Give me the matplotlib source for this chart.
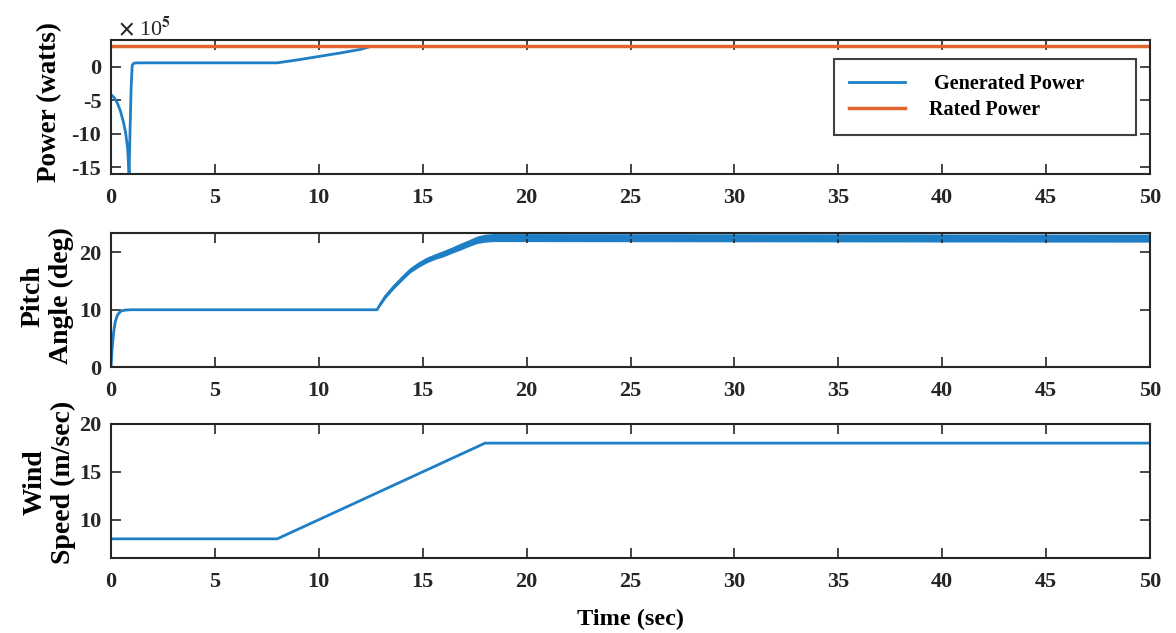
import matplotlib
matplotlib.use('Agg')
import matplotlib.pyplot as plt
from matplotlib.ticker import FuncFormatter

plt.rcParams['font.family'] = 'Liberation Serif'
plt.rcParams['font.weight'] = 'bold'
plt.rcParams['axes.labelweight'] = 'bold'
plt.rcParams['axes.unicode_minus'] = False
plt.rcParams['mathtext.fontset'] = 'stix'

# generated power (watts)
t_pow = [0, 0.15, 0.3, 0.45, 0.6, 0.7, 0.8, 0.87, 0.92, 0.97, 1.02, 1.1, 1.3,
         8.0, 9.0, 10.0, 11.0, 12.0, 12.5, 50]
gen_pow = [-4.2e5, -4.6e5, -5.4e5, -6.6e5, -8.3e5, -9.8e5, -12.2e5, -16e5, -9e5, -3e5,
           0.2e5, 0.5e5, 0.55e5, 0.55e5, 1.0e5, 1.5e5, 2.0e5, 2.55e5, 3.0e5, 3.0e5]
t_rated = [0, 50]
rated_pow = [3.0e5, 3.0e5]

# pitch angle (deg): centre of the trace and half width of the jitter band
t_pitch = [0, 0.05, 0.1, 0.15, 0.2, 0.3, 0.4, 0.5, 0.7, 1.0, 12.8, 13.0, 13.2, 13.6, 14.0,
           14.4, 14.8, 15.2, 15.6, 16.0, 16.4, 16.8, 17.2, 17.6, 18.0, 18.4, 50]
pitch = [0, 3.0, 5.2, 6.7, 7.8, 9.0, 9.5, 9.8, 9.95, 10, 10, 11.2, 12.3, 14.0, 15.5,
         16.9, 17.9, 18.7, 19.3, 19.8, 20.4, 21.0, 21.6, 22.2, 22.5, 22.6, 22.5]
pitch_jit = [0, 0, 0, 0, 0, 0, 0, 0, 0, 0, 0, 0.3, 0.35, 0.4, 0.45,
             0.45, 0.5, 0.5, 0.5, 0.55, 0.55, 0.6, 0.6, 0.65, 0.7, 0.7, 0.7]

# wind speed (m/s)
t_wind = [0, 8, 18, 50]
wind = [8, 8, 18, 18]

blue = '#1f7fc6'
orange = '#df6430'
xt = list(range(0, 51, 5))

fig = plt.figure(figsize=(11.76, 6.33), dpi=100)
ax1 = fig.add_axes([0.0944, 0.7251, 0.8835, 0.2117])
ax2 = fig.add_axes([0.0944, 0.4202, 0.8835, 0.2117])
ax3 = fig.add_axes([0.0944, 0.1185, 0.8835, 0.2117])

ax1.plot(t_pow, gen_pow, c=blue, lw=2, label=' Generated Power')
ax1.plot(t_rated, rated_pow, c=orange, lw=2.5, label='Rated Power')
ax1.set_ylim(-16e5, 3.95e5)
ax1.set_yticks([-15e5, -10e5, -5e5, 0])
ax1.yaxis.set_major_formatter(FuncFormatter(lambda v, p: '%g' % (v / 1e5)))
ax1.text(0.007, 1.035, r'$\times$ 10$^5$', transform=ax1.transAxes, fontsize=16,
         fontweight='normal', va='baseline', ha='left', color='#262626')
ax1.set_ylabel('Power (watts)', fontsize=19.5)
ax1.yaxis.set_label_coords(-0.047, 0.54)
leg = ax1.legend(loc='upper left', bbox_to_anchor=(0.6956, 0.291, 0.2909, 0.567),
                 mode='expand', borderaxespad=0, fontsize=14.5, handlelength=2.8,
                 handletextpad=1.2, borderpad=0.75, labelspacing=0.3,
                 fancybox=False, framealpha=1)
leg.get_frame().set_edgecolor('#404040')
leg.get_frame().set_linewidth(1.5)

ax2.fill_between(t_pitch, [p - j for p, j in zip(pitch, pitch_jit)],
                 [p + j for p, j in zip(pitch, pitch_jit)], color=blue, lw=0)
ax2.plot(t_pitch, pitch, c=blue, lw=2)
ax2.set_ylim(0, 23.4)
ax2.set_yticks([0, 10, 20])
ax2.set_ylabel('Pitch\nAngle (deg)', fontsize=20, linespacing=1.15)
ax2.yaxis.set_label_coords(-0.036, 0.53)

ax3.plot(t_wind, wind, c=blue, lw=2)
ax3.set_ylim(6, 20)
ax3.set_yticks([10, 15, 20])
ax3.set_ylabel('Wind\nSpeed (m/sec)', fontsize=20, linespacing=1.15)
ax3.yaxis.set_label_coords(-0.034, 0.565)
ax3.set_xlabel('Time (sec)', fontsize=17.5, labelpad=12)

for ax in (ax1, ax2, ax3):
    ax.set_xlim(0, 50)
    ax.set_xticks(xt)
    ax.tick_params(direction='in', length=7, width=1.2, top=True, right=True,
                   labelsize=16, colors='#262626')
    ax.tick_params(axis='x', pad=10)
    ax.tick_params(axis='y', pad=7)
    for s in ax.spines.values():
        s.set_linewidth(1.5)
        s.set_color('#262626')

fig.savefig('out.png', dpi=100)
